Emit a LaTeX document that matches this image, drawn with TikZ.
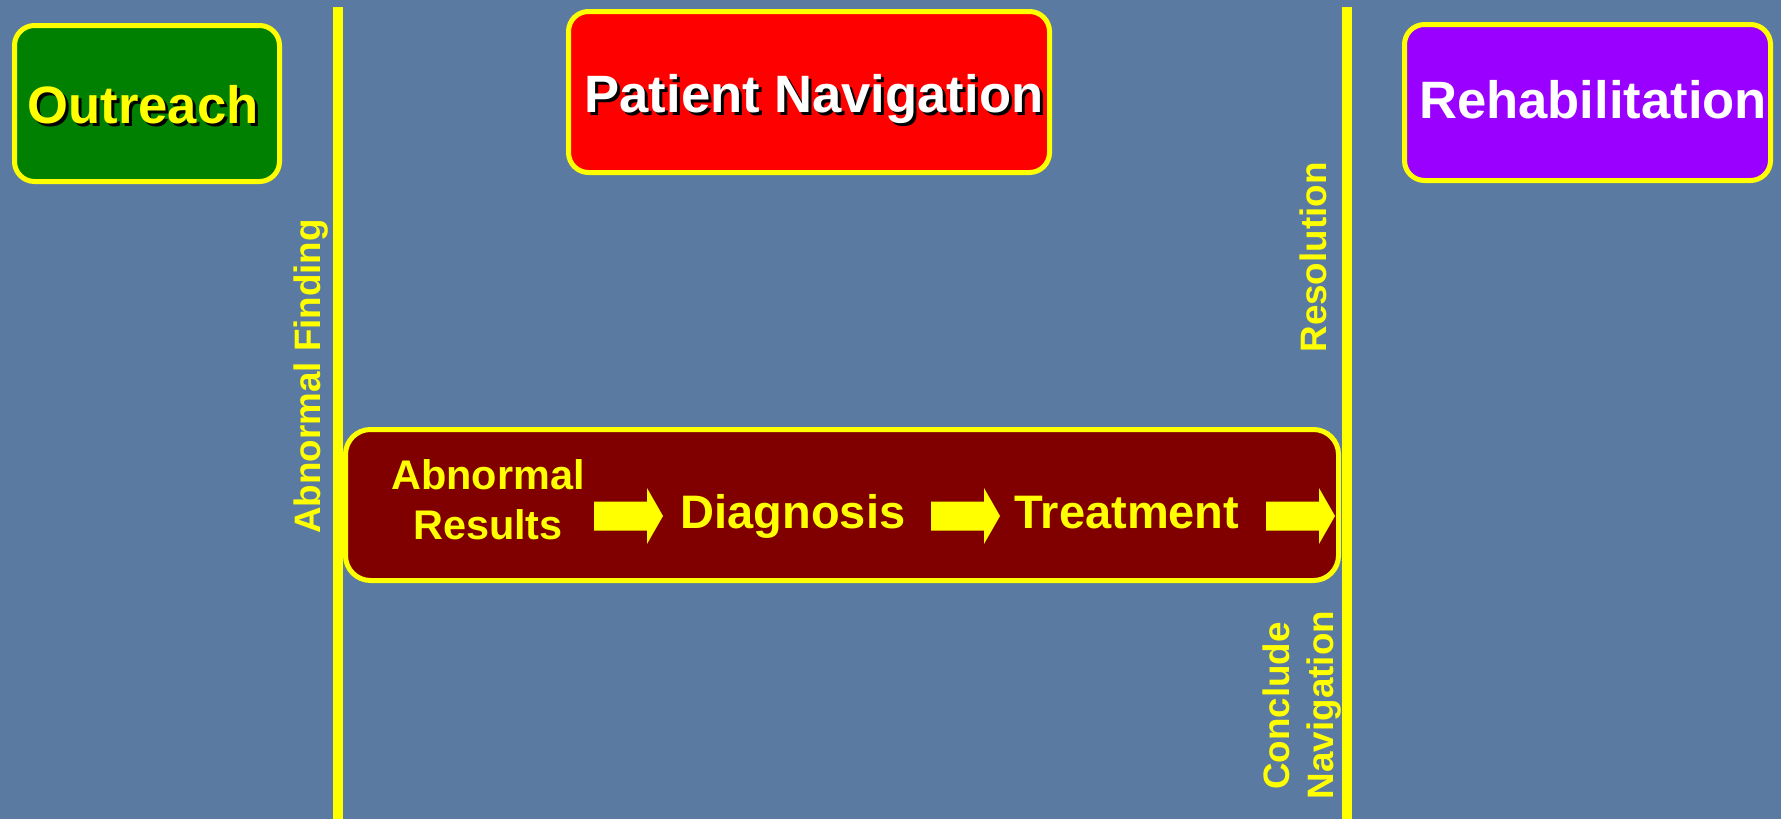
\documentclass[tikz,border=0pt]{standalone}
\usepackage{fontspec}
\setmainfont{Liberation Sans}
\definecolor{ylw}{RGB}{255,255,0}
\definecolor{slate}{RGB}{90,122,162}
\definecolor{grn}{RGB}{0,128,0}
\definecolor{rd}{RGB}{255,0,0}
\definecolor{prp}{RGB}{153,0,255}
\definecolor{maroon}{RGB}{128,0,0}
\begin{document}
\begin{tikzpicture}[x=0.5pt,y=-0.5pt,
  panel/.style={draw=ylw, line width=2.5pt, rounded corners=10pt, inner sep=0pt},
  title/.style={font=\fontsize{26.3}{30}\selectfont\bfseries, inner sep=0pt, anchor=base},
  stage/.style={font=\fontsize{23.5}{28}\selectfont\bfseries, text=ylw, inner sep=0pt, anchor=base},
  small/.style={font=\fontsize{20.7}{25}\selectfont\bfseries, text=ylw, inner sep=0pt, anchor=base},
  side/.style={font=\fontsize{18.4}{22}\selectfont\bfseries, text=ylw, inner sep=0pt, anchor=base, rotate=90},
  divider/.style={draw=ylw, line width=5pt},
  pics/barrow/.style={code={
    \fill[ylw] (0,-14.5) -- (53,-14.5) -- (53,-28) -- (69,0) -- (53,28) -- (53,14.5) -- (0,14.5) -- cycle;}}
]
% background
\fill[slate] (0,0) rectangle (1781,819);
\useasboundingbox (0,0) rectangle (1781,819);

% phase dividers
\coordinate (lefttop) at (338,7);
\coordinate (leftbot) at (338,819);
\coordinate (righttop) at (1346.5,7);
\coordinate (rightbot) at (1346.5,819);
\draw[divider] (lefttop) -- (leftbot);
\draw[divider] (righttop) -- (rightbot);

% phase boxes
\node[panel, fill=grn, minimum width=132.5pt, minimum height=78pt] (outreach) at (147,103.5) {};
\node[panel, fill=rd, minimum width=240.5pt, minimum height=80.5pt] (navigation) at (809,92) {};
\node[panel, fill=prp, minimum width=183pt, minimum height=78pt] (rehab) at (1587.5,102.5) {};

\node[title, text=black] (outreachshadow) at (146,126) {Outreach};
\node[title, text=ylw] (outreachtxt) at (143,123) {Outreach};
\node[title, text=black] (navshadow) at (817,115) {Patient Navigation};
\node[title, text=white] (navtxt) at (814,112) {Patient Navigation};
\node[title, text=white] (rehabtxt) at (1593,118) {Rehabilitation};

% navigation process
\node[panel, fill=maroon, rounded corners=12.5pt, minimum width=496.5pt, minimum height=75.5pt] (process) at (842,505) {};
\node[small] (abn1) at (488,489) {Abnormal};
\node[small] (abn2) at (488,539) {Results};
\node[stage] (diag) at (793,528) {Diagnosis};
\node[stage] (treat) at (1127,528) {Treatment};
\pic (arrowA) at (594,516) {barrow};
\pic (arrowB) at (931,516) {barrow};
\pic (arrowC) at (1266,516) {barrow};

% milestone labels
\node[side] (finding) at (320,376.5) {Abnormal Finding};
\node[side] (resolution) at (1326,257.5) {Resolution};
\node[side] (conclude) at (1289,706) {Conclude};
\node[side] (concludenav) at (1333,705) {Navigation};
\end{tikzpicture}
\end{document}
